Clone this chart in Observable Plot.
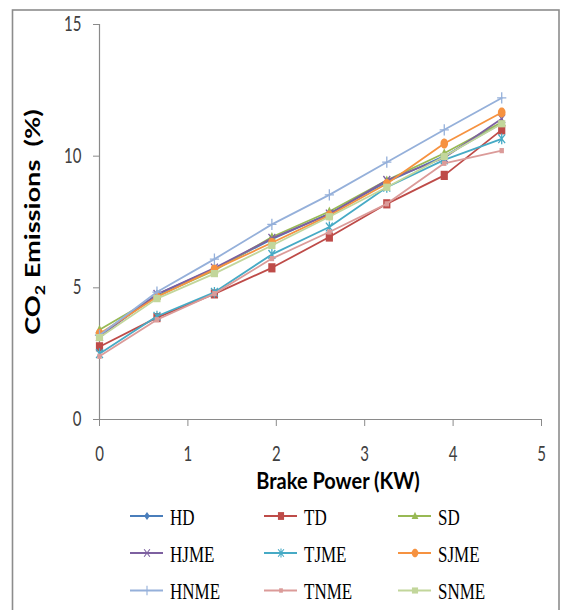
<!DOCTYPE html>
<html><head><meta charset="utf-8">
<script src="https://cdn.jsdelivr.net/npm/d3@7"></script>
<script src="https://cdn.jsdelivr.net/npm/@observablehq/plot@0.6"></script>
<style>body{margin:0;background:#fff} svg text{white-space:pre}</style>
</head><body><div id="chart"></div><script>
// ---- data ----
const brakePower = [0, 0.65, 1.3, 1.95, 2.6, 3.25, 3.9, 4.55];
const seriesNames = ["HD", "TD", "SD", "HJME", "TJME", "SJME", "HNME", "TNME", "SNME"];
const HD   = [3.20, 4.75, 5.72, 6.85, 7.82, 9.02, 10.00, 11.25];
const TD   = [2.76, 3.87, 4.77, 5.76, 6.93, 8.19, 9.27, 11.00];
const SD   = [3.41, 4.68, 5.66, 6.93, 7.90, 9.08, 10.11, 11.29];
const HJME = [3.15, 4.75, 5.75, 6.88, 7.80, 9.08, 9.94, 11.42];
const TJME = [2.50, 3.92, 4.83, 6.27, 7.31, 8.82, 9.86, 10.66];
const SJME = [3.26, 4.65, 5.70, 6.71, 7.75, 8.95, 10.48, 11.66];
const HNME = [3.20, 4.84, 6.09, 7.41, 8.53, 9.77, 11.00, 12.21];
const TNME = [2.40, 3.79, 4.78, 6.11, 7.12, 8.19, 9.73, 10.21];
const SNME = [3.11, 4.59, 5.54, 6.61, 7.70, 8.82, 9.99, 11.23];
const xTicks = [0, 1, 2, 3, 4, 5];
const yTicks = [0, 5, 10, 15];
const xTitle = "Brake Power (KW)";
const colors = ["#4A7EBB", "#BE4B48", "#98B954", "#7D60A0", "#46AAC5", "#F69240", "#95B0DA", "#DB9B99", "#C2D69B"];
const values = [HD, TD, SD, HJME, TJME, SJME, HNME, TNME, SNME];

// ---- marker shapes (vertically stretched like the reference) ----
const sym = {
  diamond: {draw(c){c.moveTo(0,-4.8);c.lineTo(3.4,0);c.lineTo(0,4.8);c.lineTo(-3.4,0);c.closePath();}},
  square: {draw(c){c.moveTo(-3.6,-4.6);c.lineTo(3.6,-4.6);c.lineTo(3.6,4.6);c.lineTo(-3.6,4.6);c.closePath();}},
  triangle: {draw(c){c.moveTo(0,-5);c.lineTo(4,3.6);c.lineTo(-4,3.6);c.closePath();}},
  cross: {draw(c){c.moveTo(-3.4,-4.4);c.lineTo(3.4,4.4);c.moveTo(3.4,-4.4);c.lineTo(-3.4,4.4);}},
  asterisk: {draw(c){c.moveTo(-3.4,-4.4);c.lineTo(3.4,4.4);c.moveTo(3.4,-4.4);c.lineTo(-3.4,4.4);c.moveTo(0,-5.4);c.lineTo(0,5.4);}},
  circle: {draw(c){for(let i=0;i<=32;i++){const a=i/32*2*Math.PI; const px=3.8*Math.cos(a), py=5*Math.sin(a); i?c.lineTo(px,py):c.moveTo(px,py);} c.closePath();}},
  plus: {draw(c){c.moveTo(-4.6,0);c.lineTo(4.6,0);c.moveTo(0,-5.6);c.lineTo(0,5.6);}},
  small: {draw(c){c.moveTo(-2.2,-2.6);c.lineTo(2.2,-2.6);c.lineTo(2.2,2.6);c.lineTo(-2.2,2.6);c.closePath();}},
  rect: {draw(c){c.moveTo(-3.6,-3.6);c.lineTo(3.6,-3.6);c.lineTo(3.6,3.6);c.lineTo(-3.6,3.6);c.closePath();}}
};
const markers = [
  {s: sym.diamond, filled: true}, {s: sym.square, filled: true}, {s: sym.triangle, filled: true},
  {s: sym.cross, filled: false}, {s: sym.asterisk, filled: false}, {s: sym.circle, filled: true},
  {s: sym.plus, filled: false}, {s: sym.small, filled: true}, {s: sym.rect, filled: true}
];

const marks = [
  Plot.ruleX([0], {stroke: "#8a8a8a", strokeWidth: 1.2}),
  Plot.ruleY([0], {stroke: "#8a8a8a", strokeWidth: 1.2}),
  Plot.axisX({ticks: xTicks, tickFormat: d => String(d), tickSize: 7, tickPadding: 20, stroke: "#8a8a8a", fill: "#404040", label: null, fontSize: 15}),
  Plot.axisY({ticks: yTicks, tickFormat: d => String(d), tickSize: 6, tickPadding: 12, stroke: "#8a8a8a", fill: "#404040", label: null, fontSize: 15})
];
seriesNames.forEach((name, i) => {
  const data = brakePower.map((x, j) => ({x, y: values[i][j], name}));
  marks.push(Plot.line(data, {x: "x", y: "y", stroke: colors[i], strokeWidth: 1.8}));
  const m = markers[i];
  marks.push(Plot.dot(data, {x: "x", y: "y", r: 4, symbol: m.s,
    fill: m.filled ? colors[i] : "none", stroke: m.filled ? "none" : colors[i], strokeWidth: 1.3}));
});

const svgNode = Plot.plot({
  width: 563, height: 610,
  marginLeft: 99, marginRight: 22, marginTop: 24, marginBottom: 191,
  x: {domain: [0, 5]},
  y: {domain: [0, 15]},
  style: {fontFamily: "Lato", fontSize: "15px", background: "white", overflow: "visible"},
  marks
});
document.getElementById("chart").append(svgNode);

const S = 1.36;
// stretch tick labels vertically to match the reference
svgNode.querySelectorAll('g[aria-label$="tick label"] text').forEach(t => {
  const tr = t.getAttribute("transform");
  if (tr) t.setAttribute("transform", tr + ` scale(1,${S})`);
  else {
    const x = +t.getAttribute("x") || 0, y = +t.getAttribute("y") || 0;
    t.setAttribute("transform", `translate(${x},${y}) scale(1,${S}) translate(${-x},${-y})`);
  }
});

const svg = d3.select(svgNode);
// axis titles
svg.append("text").attr("transform", `translate(338,489) scale(1,1.12)`)
  .attr("text-anchor", "middle").attr("font-family", "Lato").attr("font-weight", "bold")
  .attr("font-size", 20).attr("fill", "#000").text(xTitle);
const yt = svg.append("text").attr("transform", `translate(40,222) rotate(-90) scale(1.36,1)`)
  .attr("text-anchor", "middle").attr("font-family", "Lato").attr("font-weight", "bold")
  .attr("font-size", 20).attr("fill", "#000");
yt.append("tspan").text("CO");
yt.append("tspan").attr("font-size", 13).attr("dy", 5).text("2");
yt.append("tspan").attr("dy", -5).text(" Emissions  (%)");

// legend
const colX = [130, 264, 398], rowY = [516, 553, 590.5];
seriesNames.forEach((name, i) => {
  const cx = colX[i % 3], cy = rowY[Math.floor(i / 3)];
  const g = svg.append("g");
  g.append("line").attr("x1", cx).attr("x2", cx + 33).attr("y1", cy).attr("y2", cy)
    .attr("stroke", colors[i]).attr("stroke-width", 1.8);
  const m = markers[i];
  g.append("path").attr("d", d3.symbol(m.s)()).attr("transform", `translate(${cx + 17},${cy}) scale(0.85)`)
    .attr("fill", m.filled ? colors[i] : "none").attr("stroke", m.filled ? "none" : colors[i]).attr("stroke-width", 1.3);
  g.append("text").attr("transform", `translate(${cx + 40},${cy + 8.5}) scale(1,${S})`)
    .attr("text-anchor", "start")
    .attr("font-family", "Liberation Serif").attr("font-size", 17).attr("fill", "#000").text(name);
});

// outer border
svg.append("rect").attr("x", 12.5).attr("y", 10).attr("width", 546.5).attr("height", 620)
  .attr("fill", "none").attr("stroke", "#8c8c8c").attr("stroke-width", 1.6);
</script></body></html>
